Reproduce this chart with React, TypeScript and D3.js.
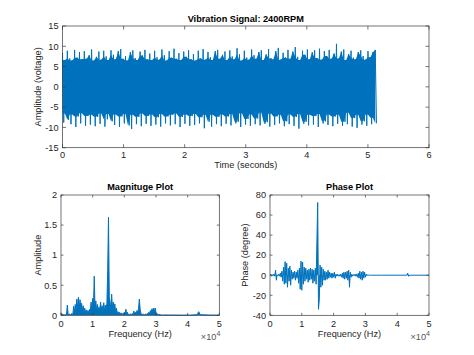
import React from 'react';
import * as d3 from 'd3';

// ---------------- DATA ----------------
const signalDuration = 5.16; // seconds
const signalUpper = [
  8.4, 6.6, 8.9, 7.0, 6.5, 9.1, 7.2, 8.6, 6.8, 8.8,
  6.9, 7.8, 9.2, 6.5, 7.4, 8.7, 6.7, 8.9, 7.5, 6.6,
  9.0, 7.9, 6.8, 8.8, 9.3, 6.9, 7.6, 6.5, 8.6, 9.0,
  7.1, 6.6, 8.7, 7.7, 9.1, 6.8, 8.2, 6.6, 8.9, 7.3,
  6.7, 9.2, 7.8, 6.5, 8.8, 7.2, 9.4, 6.9, 8.3, 6.6,
  8.7, 7.4, 9.0, 6.8, 8.1, 6.5, 8.9, 7.0, 9.3, 6.7,
  8.6, 7.3, 6.6, 8.8, 9.1, 6.9, 7.9, 8.7, 6.6, 9.0,
  7.5, 6.8, 9.5, 8.0, 6.5, 8.9, 7.2, 6.7, 9.2, 7.8,
  6.9, 8.6, 9.0, 6.6, 8.0, 9.3, 7.1, 6.8, 8.8, 9.6,
  6.7, 8.4, 7.2, 9.1, 6.9, 8.7, 9.8, 7.4, 6.6, 8.9,
  7.9, 9.2, 6.8, 8.5, 9.0, 7.1, 9.4, 6.7, 8.8, 7.6,
  9.1, 6.9, 8.2, 10.6, 7.0, 8.7, 9.2, 6.6, 8.1, 8.9,
  7.2, 6.8, 8.6, 9.0, 7.6, 6.7, 8.8, 7.3, 8.5, 9.1,
];
const signalLower = [
  -8.8, -6.6, -8.1, -9.2, -6.8, -9.9, -7.3, -9.0, -6.5, -9.6,
  -7.2, -9.3, -6.9, -9.7, -7.4, -9.1, -6.6, -9.8, -8.0, -6.7,
  -8.5, -9.4, -6.8, -9.9, -7.3, -9.0, -6.7, -9.5, -10.4, -6.9,
  -9.2, -7.4, -9.7, -6.6, -9.1, -7.2, -9.6, -6.8, -9.3, -7.5,
  -9.8, -6.7, -9.0, -7.3, -9.5, -6.9, -9.2, -6.6, -9.9, -7.4,
  -9.1, -6.8, -9.6, -7.2, -9.4, -6.7, -9.0, -7.5, -10.2, -6.9,
  -8.6, -9.8, -6.9, -9.2, -7.4, -9.7, -6.8, -9.1, -7.3, -9.5,
  -6.7, -9.0, -8.6, -9.9, -6.5, -9.3, -7.9, -9.6, -6.8, -9.2,
  -7.8, -9.5, -6.4, -9.1, -8.7, -9.8, -6.6, -9.4, -7.3, -9.0,
  -6.9, -9.7, -8.5, -9.2, -6.8, -9.6, -7.4, -10.3, -6.7, -9.1,
  -8.6, -9.5, -6.9, -9.3, -7.2, -9.9, -6.7, -9.0, -8.5, -9.4,
  -6.8, -9.7, -7.3, -9.1, -6.9, -9.6, -8.6, -9.2, -6.4, -9.8,
  -7.7, -10.1, -6.9, -9.3, -8.5, -9.6, -6.8, -9.2, -7.6, -9.0,
];

// spectrum bins (frequency step in units of 1e4 Hz)
const freqStep = 0.025;
const magAmp = [
  0.04, 0.01, 0.02, 0.005, 0.01, 0.005, 0.01, 0.02, 0.17, 0.02,
  0.01, 0.02, 0.01, 0.02, 0.03, 0.01, 0.15, 0.04, 0.18, 0.08,
  0.27, 0.12, 0.30, 0.10, 0.26, 0.14, 0.20, 0.06, 0.16, 0.05,
  0.12, 0.04, 0.09, 0.03, 0.08, 0.04, 0.10, 0.05, 0.22, 0.09,
  0.28, 0.12, 0.65, 0.10, 0.24, 0.07, 0.18, 0.06, 0.14, 0.05,
  0.22, 0.08, 0.16, 0.06, 0.21, 0.07, 0.17, 0.09, 0.20, 0.75,
  1.63, 0.30, 0.22, 0.10, 0.35, 0.12, 0.22, 0.07, 0.19, 0.05,
  0.12, 0.04, 0.06, 0.02, 0.05, 0.02, 0.04, 0.01, 0.03, 0.02,
  0.05, 0.03, 0.10, 0.02, 0.05, 0.01, 0.02, 0.01, 0.02, 0.01,
  0.03, 0.01, 0.07, 0.02, 0.05, 0.02, 0.08, 0.04, 0.12, 0.27,
  0.10, 0.03, 0.02, 0.01, 0.02, 0.01, 0.01, 0.02, 0.01, 0.03,
  0.02, 0.05, 0.03, 0.08, 0.04, 0.11, 0.05, 0.12, 0.06, 0.12,
  0.05, 0.03, 0.02, 0.01, 0.02, 0.005, 0.01, 0.005, 0.005,
];
const magTailFreq = [3.5, 3.8, 4.1, 4.3, 4.35, 4.4, 4.7, 5.0];
const magTailAmp = [0.005, 0.003, 0.004, 0.01, 0.06, 0.01, 0.004, 0.003];

const phaseVals = [
  0, 1, -1, 0.5, -0.5, 1, -1, 5, -5, 0.5,
  -0.5, 1, -1, 2, -2, 4, -6, 8, -9, 13.5,
  -8, 12, -12, 7, -6, 9, -10, 5, -4, 3,
  -3, 4, -5, 3, -3, 5, -8, 7, -14, 14,
  -15, 13, -9, 8, -6, 7, -4, 5, -7, 6,
  -5, 7, -4, 6, -8, 5, -6, 7, -9, 33,
  72.5, -34, -24, 10, -12, 8, -10, 6, -5, 4,
  -5, 3, -4, 5, -3, 3, -2, 2, -3, 2,
  -2, 3, -3, 1, -1, 1, -1, 0.5, -1, 1,
  -2, 2, -3, 3, -4, 3, -3, 4, -5, 5,
  -12, 3, -2, 1, -1, 0.5, -0.5, 1, -1, 1,
  -2, 2, -3, 4, -4, 3, -5, 4, -3, 3,
  -2, 1, -0.5, 0.5, 0, 0, 0, 0, 0,
];
const phaseTailFreq = [3.5, 4.3, 4.33, 4.36, 4.4, 5.0];
const phaseTailVals = [0, 0, 2, -1, 0, 0];

const timeTicks = [0, 1, 2, 3, 4, 5, 6];
const ampTicks = [-15, -10, -5, 0, 5, 10, 15];
const freqTicks = [0, 1, 2, 3, 4, 5];
const magTicks = [0, 0.5, 1, 1.5, 2];
const phaseTicks = [-40, -20, 0, 20, 40, 60, 80];

// ---------------- STYLE ----------------
const BLUE = '#0072BD';
const AX = '#3a3a3a';
const FONT = '"Liberation Sans", Arial, Helvetica, sans-serif';
const FS = 9.2;

type Band = { x: number; y0: number; y1: number };

type AxesProps = {
  left: number; right: number; top: number; bottom: number;
  xDomain: [number, number]; yDomain: [number, number];
  xTicks: number[]; yTicks: number[];
  title: string; xlabel: string; ylabel: string;
  ylabelX: number; tickLen: number; exp?: boolean;
  titleY: number; xtickY: number; xlabelY: number;
  data: [number, number][];
  band: Band[];
};

function Axes(p: AxesProps) {
  const x = d3.scaleLinear().domain(p.xDomain).range([p.left, p.right]);
  const y = d3.scaleLinear().domain(p.yDomain).range([p.bottom, p.top]);
  const line = d3.line<[number, number]>().x(d => x(d[0])).y(d => y(d[1]));
  const area = d3.area<Band>().x(d => x(d.x)).y0(d => y(d.y0)).y1(d => y(d.y1));
  const cx = (p.left + p.right) / 2;
  const cy = (p.top + p.bottom) / 2;
  return (
    <g fontFamily={FONT} fontSize={FS} fill="#262626">
      <path d={area(p.band) || ''} fill={BLUE} stroke="none" />
      <path d={line(p.data) || ''} fill="none" stroke={BLUE} strokeWidth={1} />
      <rect x={p.left} y={p.top} width={p.right - p.left} height={p.bottom - p.top}
        fill="none" stroke={AX} strokeWidth={0.7} />
      {p.xTicks.map(t => (
        <g key={'x' + t}>
          <line x1={x(t)} x2={x(t)} y1={p.bottom} y2={p.bottom - p.tickLen} stroke={AX} strokeWidth={0.7} />
          <line x1={x(t)} x2={x(t)} y1={p.top} y2={p.top + p.tickLen} stroke={AX} strokeWidth={0.7} />
          <text x={x(t)} y={p.xtickY} textAnchor="middle">{String(t)}</text>
        </g>
      ))}
      {p.yTicks.map(t => (
        <g key={'y' + t}>
          <line x1={p.left} x2={p.left + p.tickLen} y1={y(t)} y2={y(t)} stroke={AX} strokeWidth={0.7} />
          <line x1={p.right} x2={p.right - p.tickLen} y1={y(t)} y2={y(t)} stroke={AX} strokeWidth={0.7} />
          <text x={p.left - 4} y={y(t) + 3.3} textAnchor="end">{String(t)}</text>
        </g>
      ))}
      <text x={cx} y={p.titleY} textAnchor="middle" fontWeight="bold" fill="#000">{p.title}</text>
      <text x={cx} y={p.xlabelY} textAnchor="middle">{p.xlabel}</text>
      <text transform={`translate(${p.ylabelX},${cy}) rotate(-90)`} textAnchor="middle">{p.ylabel}</text>
      {p.exp && (
        <text x={p.right + 1} y={p.xlabelY + 3} textAnchor="end" fill="#555">
          <tspan>×10</tspan>
          <tspan dy={-4.5} fontSize={7}>4</tspan>
        </text>
      )}
    </g>
  );
}

export default function App() {
  const dt = signalDuration / signalUpper.length;
  const signalData: [number, number][] = [];
  const signalBand: Band[] = [];
  signalUpper.forEach((u, i) => {
    signalData.push([i * dt, u]);
    signalData.push([i * dt + dt / 2, signalLower[i]]);
    const nu = i + 1 < signalUpper.length ? signalUpper[i + 1] : u;
    const nl = i + 1 < signalLower.length ? signalLower[i + 1] : signalLower[i];
    signalBand.push({ x: i * dt, y0: Math.max(signalLower[i], nl), y1: Math.min(u, nu) });
  });

  const magData: [number, number][] = magAmp.map((a, i) => [i * freqStep, a] as [number, number]);
  magTailFreq.forEach((f, i) => magData.push([f, magTailAmp[i]]));
  const magBand: Band[] = magData.map(d => ({ x: d[0], y0: 0, y1: d[1] }));

  const phaseData: [number, number][] = phaseVals.map((v, i) => [i * freqStep, v] as [number, number]);
  phaseTailFreq.forEach((f, i) => phaseData.push([f, phaseTailVals[i]]));
  const phaseBand: Band[] = phaseData.map(d => ({ x: d[0], y0: 0, y1: d[1] }));

  return (
    <div style={{ position: 'fixed', left: 0, top: 0 }}>
      <svg width={474} height={355} style={{ display: 'block', background: '#fff' }}>
        <Axes left={62.5} right={429} top={26} bottom={147.7}
          xDomain={[0, 6]} yDomain={[-15, 15]} xTicks={timeTicks} yTicks={ampTicks}
          title="Vibration Signal: 2400RPM" xlabel="Time (seconds)" ylabel="Amplitude (voltage)"
          ylabelX={41} tickLen={3.5} titleY={21.7} xtickY={158.3} xlabelY={168.4}
          data={signalData} band={signalBand} />
        <Axes left={61} right={219.3} top={195} bottom={315.3}
          xDomain={[0, 5]} yDomain={[0, 2]} xTicks={freqTicks} yTicks={magTicks}
          title="Magnituge Plot" xlabel="Frequency (Hz)" ylabel="Amplitude"
          ylabelX={41} tickLen={2.5} titleY={190} xtickY={326.7} xlabelY={337.4} exp
          data={magData} band={magBand} />
        <Axes left={270} right={429} top={195} bottom={315.3}
          xDomain={[0, 5]} yDomain={[-40, 80]} xTicks={freqTicks} yTicks={phaseTicks}
          title="Phase Plot" xlabel="Frequency (Hz)" ylabel="Phase (degree)"
          ylabelX={248} tickLen={2.5} titleY={190} xtickY={326.7} xlabelY={337.4} exp
          data={phaseData} band={phaseBand} />
      </svg>
    </div>
  );
}
